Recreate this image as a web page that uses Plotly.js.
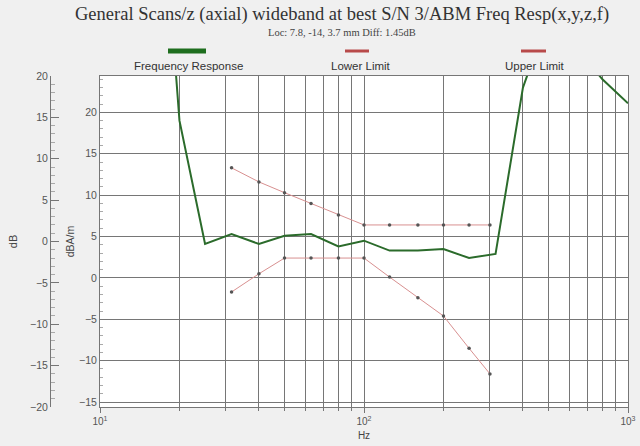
<!DOCTYPE html>
<html>
<head>
<meta charset="utf-8">
<script src="https://cdn.plot.ly/plotly-3.0.1.min.js"></script>
<style>html,body{margin:0;padding:0;background:#f0f0f0;}#chart{width:640px;height:446px;}</style>
</head>
<body>
<div id="chart"></div>
<script>
// Data
var respFreq = [16, 20, 25, 31.5, 40, 50, 63, 80, 100, 125, 160, 200, 250, 315, 400, 500, 630, 800, 1000];
var respVal  = [60, 19.0, 4.1, 5.3, 4.1, 5.1, 5.3, 3.8, 4.5, 3.3, 3.3, 3.5, 2.4, 2.9, 23.0, 31.7, 28.0, 24.0, 21.1];
var limFreq  = [31.5, 40, 50, 63, 80, 100, 125, 160, 200, 250, 300];
var upperVal = [13.3, 11.6, 10.3, 9.0, 7.6, 6.4, 6.4, 6.4, 6.4, 6.4, 6.4];
var lowerVal = [-1.7, 0.5, 2.4, 2.4, 2.4, 2.4, 0.1, -2.4, -4.6, -8.5, -11.6];
var xMajorVals = [10, 100, 1000];
var xMajorText = ['10<sup>1</sup>', '10<sup>2</sup>', '10<sup>3</sup>'];
var xMinorVals = [20,30,40,50,60,70,80,90,200,300,400,500,600,700,800,900];
var seriesNames = ['Frequency Response', 'Lower Limit', 'Upper Limit'];

var grid = '#767676';
var traces = [
  {x: limFreq, y: upperVal, mode: 'lines+markers', type: 'scatter', name: seriesNames[2],
   line: {color: '#d89090', width: 1}, marker: {color: '#555', size: 3.5}, xaxis: 'x', yaxis: 'y'},
  {x: limFreq, y: lowerVal, mode: 'lines+markers', type: 'scatter', name: seriesNames[1],
   line: {color: '#d89090', width: 1}, marker: {color: '#555', size: 3.5}, xaxis: 'x', yaxis: 'y'},
  {x: respFreq, y: respVal, mode: 'lines', type: 'scatter', name: seriesNames[0],
   line: {color: '#2b6b2b', width: 2}, xaxis: 'x', yaxis: 'y'}
];

function px(v){ return (v - 50) / 578; }
function py(v){ return (407 - v) / 331; }

var layout = {
  width: 640, height: 446,
  margin: {l: 50, r: 12, t: 76, b: 39},
  paper_bgcolor: '#f0f0f0', plot_bgcolor: '#ffffff',
  showlegend: false,
  font: {family: 'Liberation Sans, Arial, sans-serif', color: '#444', size: 10},
  xaxis: {
    type: 'log', range: [1, 3], domain: [px(100), 1],
    tickmode: 'array', tickvals: xMajorVals, ticktext: xMajorText,
    showgrid: true, gridcolor: grid, gridwidth: 1,
    minor: {tickmode: 'array', tickvals: xMinorVals, showgrid: true, gridcolor: grid, gridwidth: 1,
            ticks: 'outside', ticklen: 3, tickcolor: grid},
    showline: true, linecolor: grid, mirror: true,
    ticks: 'outside', ticklen: 5, tickcolor: grid,
    tickfont: {size: 10, color: '#555'},
    zeroline: false,
    title: {text: 'Hz', font: {size: 10, color: '#444'}, standoff: 5}
  },
  yaxis: {
    range: [-15.6, 24.4], tickmode: 'linear', tick0: 0, dtick: 5,
    showgrid: true, gridcolor: grid, gridwidth: 1, zeroline: false,
    showline: true, linecolor: grid, mirror: true,
    ticks: 'inside', ticklen: 6, tickcolor: grid,
    minor: {dtick: 1, ticklen: 3, tickcolor: '#aaa', showgrid: false, ticks: 'inside'},
    tickfont: {size: 10.5, color: '#555'},
    title: {text: 'dBA/m', font: {size: 10.5, color: '#444'}, standoff: 2}
  },
  yaxis2: {
    overlaying: 'y', anchor: 'free', position: 0, side: 'left',
    range: [-20, 20], tickmode: 'linear', tick0: 0, dtick: 5,
    showgrid: false, zeroline: false,
    showline: true, linecolor: grid,
    ticks: 'inside', ticklen: 8, tickcolor: grid,
    minor: {dtick: 1, ticklen: 4, tickcolor: '#aaa', showgrid: false, ticks: 'inside'},
    tickfont: {size: 10.5, color: '#555'},
    title: {text: 'dB', font: {size: 11, color: '#444'}, standoff: 9}
  },
  annotations: [
    {text: 'General Scans/z (axial) wideband at best S/N 3/ABM Freq Resp(x,y,z,f)', xref: 'paper', yref: 'paper',
     x: px(342), y: py(14), showarrow: false, xanchor: 'center', yanchor: 'middle',
     font: {family: 'Liberation Serif, Times New Roman, serif', size: 18.5, color: '#333'}},
    {text: 'Loc: 7.8, -14, 3.7 mm Diff: 1.45dB', xref: 'paper', yref: 'paper',
     x: px(342), y: py(32), showarrow: false, xanchor: 'center', yanchor: 'middle',
     font: {family: 'Liberation Serif, Times New Roman, serif', size: 10.5, color: '#444'}},
    {text: seriesNames[0], xref: 'paper', yref: 'paper', x: px(188), y: py(66), showarrow: false,
     xanchor: 'center', yanchor: 'middle', font: {size: 11.5, color: '#333'}},
    {text: seriesNames[1], xref: 'paper', yref: 'paper', x: px(361), y: py(66), showarrow: false,
     xanchor: 'center', yanchor: 'middle', font: {size: 11.5, color: '#333'}},
    {text: seriesNames[2], xref: 'paper', yref: 'paper', x: px(535), y: py(66), showarrow: false,
     xanchor: 'center', yanchor: 'middle', font: {size: 11.5, color: '#333'}}
  ],
  shapes: [
    {type: 'line', xref: 'paper', yref: 'paper', x0: px(168), x1: px(206), y0: py(51), y1: py(51),
     line: {color: '#1e6e1e', width: 5}},
    {type: 'line', xref: 'paper', yref: 'paper', x0: px(345), x1: px(369), y0: py(51), y1: py(51),
     line: {color: '#b84a4a', width: 3}},
    {type: 'line', xref: 'paper', yref: 'paper', x0: px(521), x1: px(546), y0: py(51), y1: py(51),
     line: {color: '#b84a4a', width: 3}}
  ]
};

// invisible trace that activates the outer dB axis
traces.push({x: [10], y: [0], xaxis: 'x', yaxis: 'y2', mode: 'markers', marker: {opacity: 0}, hoverinfo: 'skip', showlegend: false});

Plotly.newPlot('chart', traces, layout, {displayModeBar: false, staticPlot: true});
</script>
</body>
</html>
